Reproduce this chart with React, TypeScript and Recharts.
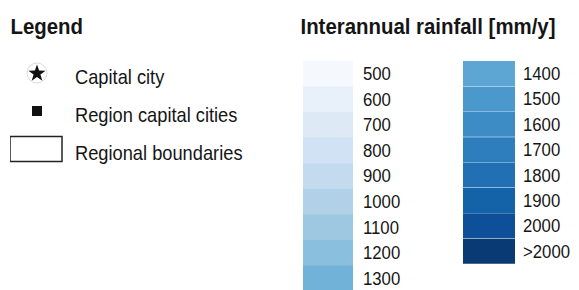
import React from 'react';
import { BarChart, Bar, XAxis, YAxis, Cell, ScatterChart, Scatter } from 'recharts';

const FONT = '"Liberation Sans", Arial, sans-serif';
const TEXT = '#151515';

// Rainfall classes (mm/y)
const lowLabels = ['500', '600', '700', '800', '900', '1000', '1100', '1200', '1300'];
const lowColors = ['#f5f9fd', '#e8f0f9', '#dde9f5', '#d0e2f3', '#c4dbef', '#b0d1e8', '#9ec8e1', '#8ac0de', '#70b2d8'];
const highLabels = ['1400', '1500', '1600', '1700', '1800', '1900', '2000', '>2000'];
const highColors = ['#5da5d3', '#4b98cc', '#3d8cc5', '#2e7ebd', '#2170b3', '#1462a8', '#0d5099', '#0a3a73'];

// Map symbols
const symbolNames = ['Capital city', 'Region capital cities', 'Regional boundaries'];
const symbolKinds = ['star', 'square', 'box'];

const lowData = lowLabels.map((label, i) => ({ label, v: 1, color: lowColors[i] }));
const highData = highLabels.map((label, i) => ({ label, v: 1, color: highColors[i] }));
const symbolData = symbolNames.map((name, i) => ({ name, x: 0.5, kind: symbolKinds[i] }));

const ScaledTick = (props: any) => {
  const { x, y, payload, fs, sx, dy } = props;
  return (
    <text
      x={0}
      y={0}
      transform={`translate(${x},${y}) scale(${sx},1)`}
      dy={dy}
      fontSize={fs}
      fill={TEXT}
      fontFamily={FONT}
      textAnchor="start"
    >
      {payload.value}
    </text>
  );
};

const starPath = (cx: number, cy: number, ro: number, ri: number) => {
  const pts: string[] = [];
  for (let k = 0; k < 10; k++) {
    const r = k % 2 === 0 ? ro : ri;
    const a = -Math.PI / 2 + (k * Math.PI) / 5;
    pts.push(`${(cx + r * Math.cos(a)).toFixed(2)},${(cy + r * Math.sin(a)).toFixed(2)}`);
  }
  return 'M' + pts.join('L') + 'Z';
};

const SymbolShape = (props: any) => {
  const { cx, cy, payload } = props;
  if (payload.kind === 'star') {
    return (
      <g>
        <circle cx={cx + 1} cy={cy} r={10} fill="#fff" stroke="#dcdcdc" strokeWidth={1} />
        <path d={starPath(cx + 1, cy + 0.5, 9, 3.6)} fill="#111" />
      </g>
    );
  }
  if (payload.kind === 'square') {
    return <rect x={cx - 4} y={cy - 5} width={10} height={10} fill="#111" />;
  }
  return <rect x={cx - 26} y={cy - 12.5} width={52} height={25} fill="#fff" stroke="#222" strokeWidth={1.5} />;
};

const Title = ({ x, y, children }: any) => (
  <text
    x={0}
    y={0}
    transform={`translate(${x},${y}) scale(0.915,1)`}
    fontSize={22.3}
    fontWeight="bold"
    fill={TEXT}
    fontFamily={FONT}
  >
    {children}
  </text>
);

export default function App() {
  return (
    <div
      style={{
        position: 'absolute',
        left: 0,
        top: 0,
        width: 579,
        height: 290,
        background: '#fff',
        overflow: 'hidden',
        fontFamily: FONT,
      }}
    >
      <svg width={579} height={50} style={{ position: 'absolute', left: 0, top: 0 }}>
        <Title x={10.5} y={34}>Legend</Title>
        <Title x={300.5} y={34}>Interannual rainfall [mm/y]</Title>
      </svg>

      <div style={{ position: 'absolute', left: 10, top: 54 }}>
        <ScatterChart width={292} height={114} margin={{ top: 0, right: 0, bottom: 0, left: 0 }}>
          <XAxis type="number" dataKey="x" domain={[0, 1]} hide />
          <YAxis
            type="category"
            dataKey="name"
            orientation="right"
            width={240}
            axisLine={false}
            tickLine={false}
            tickSize={0}
            tickMargin={13}
            tick={(p: any) => <ScaledTick {...p} fs={21} sx={0.87} dy="0.5em" />}
            reversed
          />
          <Scatter data={symbolData} shape={(p: any) => <SymbolShape {...p} />} isAnimationActive={false} />
        </ScatterChart>
      </div>

      <div style={{ position: 'absolute', left: 303, top: 61 }}>
        <BarChart
          layout="vertical"
          width={120}
          height={230}
          data={lowData}
          margin={{ top: 0, right: 0, bottom: 0, left: 0 }}
          barCategoryGap={0}
        >
          <XAxis type="number" domain={[0, 1]} hide />
          <YAxis
            type="category"
            dataKey="label"
            orientation="right"
            width={70}
            axisLine={false}
            tickLine={false}
            tickSize={0}
            tickMargin={10}
            tick={(p: any) => <ScaledTick {...p} fs={18.6} sx={0.9} dy="0.345em" />}
          />
          <Bar dataKey="v" isAnimationActive={false}>
            {lowData.map((d, i) => (
              <Cell key={i} fill={d.color} />
            ))}
          </Bar>
        </BarChart>
      </div>

      <div style={{ position: 'absolute', left: 463, top: 61 }}>
        <BarChart
          layout="vertical"
          width={116}
          height={203}
          data={highData}
          margin={{ top: 0, right: 0, bottom: 0, left: 0 }}
          barCategoryGap={0}
        >
          <XAxis type="number" domain={[0, 1]} hide />
          <YAxis
            type="category"
            dataKey="label"
            orientation="right"
            width={64}
            axisLine={false}
            tickLine={false}
            tickSize={0}
            tickMargin={8}
            tick={(p: any) => <ScaledTick {...p} fs={18.6} sx={0.9} dy="0.345em" />}
          />
          <Bar dataKey="v" isAnimationActive={false}>
            {highData.map((d, i) => (
              <Cell key={i} fill={d.color} />
            ))}
          </Bar>
        </BarChart>
      </div>
    </div>
  );
}
